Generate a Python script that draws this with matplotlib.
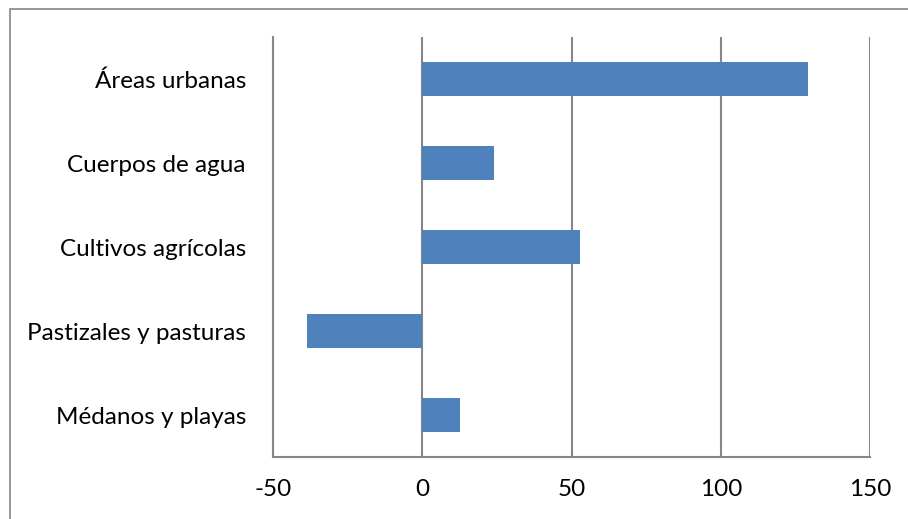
import numpy as np
import matplotlib.pyplot as plt
from matplotlib.patches import Rectangle

categories = ["Áreas urbanas", "Cuerpos de agua", "Cultivos agrícolas",
              "Pastizales y pasturas", "Médanos y playas"]
values = [129.2, 23.9, 53.0, -38.7, 12.8]
xticks = [-50, 0, 50, 100, 150]

W, H = 908, 519
fig = plt.figure(figsize=(W / 100, H / 100), dpi=100)
ax = fig.add_axes([273 / W, 1 - 457 / H, (870 - 273) / W, (457 - 37) / H])

grey = "#868686"
pos = np.arange(len(categories))[::-1]
ax.barh(pos, values, height=0.4, color="#4F81BD", zorder=3)

ax.set_xlim(-50, 150)
ax.set_ylim(-0.5, len(categories) - 0.5)
ax.set_xticks(xticks)
ax.set_xticklabels([str(t) for t in xticks])
ax.set_yticks(pos)
ax.set_yticklabels(categories)
ax.tick_params(length=0, labelsize=17.5, colors="black")
ax.tick_params(axis="x", pad=16)
ax.tick_params(axis="y", pad=19.5)
for lab in ax.get_xticklabels() + ax.get_yticklabels():
    lab.set_fontfamily(["Lato", "DejaVu Sans"])

for t in xticks:
    ax.axvline(t, color=grey, lw=1.5, zorder=1)
for side in ("top", "right"):
    ax.spines[side].set_visible(False)
ax.spines["left"].set_color(grey)
ax.spines["left"].set_linewidth(1.5)
ax.spines["bottom"].set_color(grey)
ax.spines["bottom"].set_linewidth(1.5)

# chart-area frame, partly running off the right and bottom edges
fig.patches.append(Rectangle((9.5 / W, -0.1), 1.2, 1 - 8.5 / H + 0.1,
                             transform=fig.transFigure, fill=False,
                             edgecolor=grey, lw=1.2))

fig.savefig("out.png", dpi=100)
